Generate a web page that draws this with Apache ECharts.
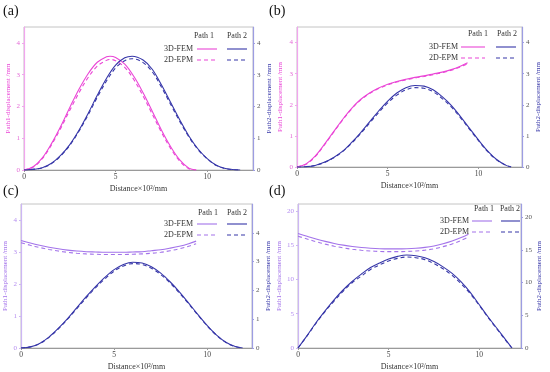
<!DOCTYPE html>
<html>
<head>
<meta charset="utf-8">
<script src="https://cdn.jsdelivr.net/npm/echarts@6/dist/echarts.min.js"></script>
<style>
html,body{margin:0;padding:0;background:#fff;}
#main{width:550px;height:372px;}
</style>
</head>
<body>
<div id="main"></div>
<script>
// ---------- DATA ----------
const panelLabels = ['(a)', '(b)', '(c)', '(d)'];
const xName = 'Distance\u00d710\u00b2/mm';
const y1Name = 'Path1-displacement /mm';
const y2Name = 'Path2-displacement /mm';
const legendCols = ['Path 1', 'Path 2'];
const legendRows = ['3D-FEM', '2D-EPM'];

// (a)
const a_x1 = [0,0.5,1,1.5,2,2.5,3,3.5,4,4.5,4.7,5,5.5,6,6.5,7,7.5,8,8.5,9,9.4];
const a_p1_fem = [0,0.10,0.38,0.83,1.37,1.97,2.54,3.03,3.39,3.56,3.58,3.54,3.33,2.94,2.43,1.85,1.26,0.74,0.32,0.06,0];
const a_p1_epm = [0,0.09,0.36,0.79,1.31,1.88,2.43,2.91,3.27,3.45,3.48,3.44,3.23,2.84,2.33,1.76,1.19,0.68,0.28,0.04,0];
const a_x2 = [0,0.5,1,1.5,2,2.5,3,3.5,4,4.5,5,5.5,5.9,6.5,7,7.5,8,8.5,9,9.5,10,10.5,11,11.5,11.8];
const a_p2_fem = [0,0.02,0.07,0.21,0.46,0.8,1.25,1.78,2.35,2.88,3.3,3.53,3.58,3.46,3.17,2.68,2.13,1.58,1.07,0.66,0.36,0.15,0.05,0.01,0];
const a_p2_epm = [0,0.02,0.07,0.2,0.44,0.78,1.22,1.73,2.29,2.8,3.21,3.44,3.5,3.38,3.09,2.61,2.07,1.53,1.04,0.64,0.35,0.14,0.04,0.01,0];

// (b)
const b_x1 = [0,0.5,1,1.5,2,2.5,3,3.5,4,4.5,5,5.5,6,6.5,7,7.5,8,8.5,9,9.4];
const b_p1_fem = [0,0.1,0.35,0.72,1.12,1.52,1.88,2.17,2.38,2.54,2.66,2.75,2.82,2.88,2.93,2.99,3.05,3.13,3.24,3.35];
const b_p1_epm = [0,0.09,0.33,0.7,1.1,1.5,1.86,2.15,2.36,2.52,2.64,2.73,2.8,2.86,2.91,2.97,3.03,3.11,3.22,3.32];
const b_x2 = [0,0.5,1,1.5,2,2.5,3,3.5,4,4.5,5,5.5,6,6.5,7,7.5,8,8.5,9,9.5,10,10.5,11,11.5,11.8];
const b_p2_fem = [0,0.01,0.05,0.15,0.3,0.5,0.78,1.1,1.45,1.8,2.12,2.38,2.55,2.62,2.6,2.48,2.26,1.98,1.63,1.25,0.87,0.52,0.24,0.06,0];
const b_p2_epm = [0,0.01,0.05,0.14,0.29,0.49,0.76,1.07,1.41,1.75,2.06,2.31,2.48,2.55,2.53,2.42,2.2,1.93,1.59,1.22,0.85,0.5,0.23,0.06,0];

// (c)
const c_x1 = [0,0.5,1,1.5,2,2.5,3,3.5,4,4.5,5,5.5,6,6.5,7,7.5,8,8.5,9,9.4];
const c_p1_fem = [3.36,3.28,3.21,3.15,3.1,3.06,3.03,3.01,3.0,2.99,2.99,2.99,3.0,3.01,3.04,3.07,3.12,3.18,3.26,3.34];
const c_p1_epm = [3.29,3.21,3.14,3.08,3.03,2.99,2.96,2.94,2.93,2.92,2.92,2.92,2.93,2.94,2.96,2.99,3.04,3.1,3.18,3.26];
const c_x2 = [0,0.5,1,1.5,2,2.5,3,3.5,4,4.5,5,5.5,6,6.5,7,7.5,8,8.5,9,9.5,10,10.5,11,11.5,11.9];
const c_p2_fem = [0,0.04,0.16,0.38,0.68,1.02,1.4,1.78,2.13,2.45,2.72,2.9,2.98,2.95,2.82,2.6,2.3,1.95,1.56,1.16,0.78,0.45,0.2,0.05,0];
const c_p2_epm = [0,0.04,0.15,0.37,0.66,1.0,1.37,1.74,2.09,2.4,2.67,2.85,2.93,2.9,2.77,2.55,2.26,1.91,1.53,1.14,0.76,0.44,0.19,0.05,0];

// (d)
const d_x1 = [0,0.5,1,1.5,2,2.5,3,3.5,4,4.5,5,5.5,6,6.5,7,7.5,8,8.5,9,9.4];
const d_p1_fem = [16.7,16.3,15.9,15.55,15.25,15.0,14.8,14.65,14.55,14.48,14.45,14.45,14.48,14.55,14.67,14.88,15.2,15.6,16.1,16.6];
const d_p1_epm = [16.3,15.9,15.5,15.15,14.85,14.6,14.4,14.25,14.15,14.08,14.05,14.05,14.08,14.15,14.27,14.47,14.78,15.18,15.68,16.2];
const d_x2 = [0,0.5,1,1.5,2,2.5,3,3.5,4,4.5,5,5.5,6,6.5,7,7.5,8,8.5,9,9.5,10,10.5,11,11.5,11.8];
const d_p2_fem = [0,1.9,3.9,5.7,7.4,8.9,10.2,11.3,12.3,13.0,13.6,14.0,14.2,14.1,13.8,13.2,12.4,11.4,10.1,8.5,6.6,4.7,2.9,1.1,0];
const d_p2_epm = [0,1.85,3.8,5.6,7.2,8.7,10.0,11.0,12.0,12.7,13.3,13.7,13.9,13.8,13.5,12.9,12.1,11.1,9.8,8.3,6.5,4.6,2.8,1.0,0];

// ---------- STYLE / LAYOUT ----------
const FONT = '"Liberation Serif", "DejaVu Serif", serif';
const MAG = '#ea45d6', PUR = '#a373ea', BLU = '#3636a8';
const panels = [
  {grid:{left:24, top:27, width:229, height:143}, xmax:12.5, y1max:4.5, y1int:1, y2max:4.5, y2int:1,
   c1:MAG, ax1:'#f2a6ee', lab1:'#e46ad6',
   s:[[a_x1,a_p1_fem],[a_x1,a_p1_epm],[a_x2,a_p2_fem],[a_x2,a_p2_epm]],
   lbl:[3,4], leg:{cols:[204,237], colY:36, rowX:193, rowY:[49,60], l1:[197,217], l2:[227,247]}},
  {grid:{left:297, top:27, width:225, height:140}, xmax:12.4, y1max:4.5, y1int:1, y2max:4.5, y2int:1,
   c1:MAG, ax1:'#f2a6ee', lab1:'#e46ad6',
   s:[[b_x1,b_p1_fem],[b_x1,b_p1_epm],[b_x2,b_p2_fem],[b_x2,b_p2_epm]],
   lbl:[269,4], leg:{cols:[478,507], colY:34, rowX:458, rowY:[47,58], l1:[461,485], l2:[496,516]}},
  {grid:{left:21, top:204, width:231, height:145}, xmax:12.4, y1max:4.5, y1int:1, y2max:5, y2int:1,
   c1:PUR, ax1:'#cdb6f4', lab1:'#b58ef0',
   s:[[c_x1,c_p1_fem],[c_x1,c_p1_epm],[c_x2,c_p2_fem],[c_x2,c_p2_epm]],
   lbl:[3,184], leg:{cols:[208,237], colY:213, rowX:193, rowY:[224,235], l1:[197,217], l2:[227,247]}},
  {grid:{left:298, top:204, width:223, height:145}, xmax:12.3, y1max:21, y1int:5, y2max:22, y2int:5,
   c1:PUR, ax1:'#cdb6f4', lab1:'#b58ef0',
   s:[[d_x1,d_p1_fem],[d_x1,d_p1_epm],[d_x2,d_p2_fem],[d_x2,d_p2_epm]],
   lbl:[269,184], leg:{cols:[484,510], colY:209, rowX:469, rowY:[221,232], l1:[472,492], l2:[501,520]}}
];

const grid = [], xAxis = [], yAxis = [], series = [], graphic = [];
panels.forEach((p, i) => {
  grid.push(Object.assign({show:true, borderColor:'#c4c4c4', borderWidth:1, backgroundColor:'transparent'}, p.grid));
  xAxis.push({
    type:'value', gridIndex:i, min:0, max:p.xmax, interval:5,
    name:xName, nameLocation:'middle', nameGap:15,
    nameTextStyle:{fontFamily:FONT, fontSize:8, color:'#333'},
    axisLine:{show:true, lineStyle:{color:'#9a9a9a', width:1}},
    axisTick:{show:true, length:2, lineStyle:{color:'#9a9a9a'}},
    axisLabel:{fontFamily:FONT, fontSize:7.5, color:'#444', margin:3, showMaxLabel:false},
    splitLine:{show:false}
  });
  yAxis.push({
    type:'value', gridIndex:i, position:'left', min:0, max:p.y1max, interval:p.y1int,
    name:y1Name, nameLocation:'middle', nameGap:i%2===0?12:13,
    nameTextStyle:{fontFamily:FONT, fontSize:7, color:p.c1},
    axisLine:{show:true, lineStyle:{color:p.ax1, width:1.2}},
    axisTick:{show:true, length:2, lineStyle:{color:p.ax1}},
    axisLabel:{fontFamily:FONT, fontSize:7, color:p.lab1, margin:4, showMaxLabel:false},
    splitLine:{show:false}
  });
  yAxis.push({
    type:'value', gridIndex:i, position:'right', min:0, max:p.y2max, interval:p.y2int,
    name:y2Name, nameLocation:'middle', nameGap:13,
    nameTextStyle:{fontFamily:FONT, fontSize:7, color:BLU},
    axisLine:{show:true, lineStyle:{color:'#9d9de2', width:1.2}},
    axisTick:{show:true, length:2, lineStyle:{color:'#9d9de2'}},
    axisLabel:{fontFamily:FONT, fontSize:7, color:'#555', margin:4, showMaxLabel:false},
    splitLine:{show:false}
  });
  const colors = [p.c1, p.c1, BLU, BLU];
  p.s.forEach((pair, k) => {
    series.push({
      type:'line', xAxisIndex:i, yAxisIndex:i*2 + (k<2?0:1),
      data: pair[0].map((x, j) => [x, pair[1][j]]),
      showSymbol:false, smooth:0.35, silent:true,
      lineStyle:{color:colors[k], width:1.1, type: k%2===1 ? [4,3] : 'solid'},
      z: k%2===1 ? 3 : 2
    });
  });
  // panel label
  graphic.push({type:'text', left:p.lbl[0], top:p.lbl[1], silent:true,
    style:{text:panelLabels[i], font:'14px ' + FONT, fill:'#111'}});
  // legend block
  const L = p.leg;
  legendCols.forEach((t, c) => {
    graphic.push({type:'text', x:L.cols[c], y:L.colY, silent:true,
      style:{text:t, font:'8px ' + FONT, fill:'#333', align:'center', verticalAlign:'middle'}});
  });
  legendRows.forEach((t, r) => {
    graphic.push({type:'text', x:L.rowX, y:L.rowY[r], silent:true,
      style:{text:t, font:'8px ' + FONT, fill:'#333', align:'right', verticalAlign:'middle'}});
    [[L.l1, p.c1], [L.l2, BLU]].forEach(([xs, col]) => {
      graphic.push({type:'line', silent:true,
        shape:{x1:xs[0], y1:L.rowY[r], x2:xs[1], y2:L.rowY[r]},
        style:{stroke:col, lineWidth:1.1, lineDash: r===1 ? [4,3] : null}});
    });
  });
});

const chart = echarts.init(document.getElementById('main'), null, {renderer:'canvas'});
chart.setOption({
  backgroundColor:'#fff',
  animation:false,
  grid, xAxis, yAxis, series, graphic
});
</script>
</body>
</html>
